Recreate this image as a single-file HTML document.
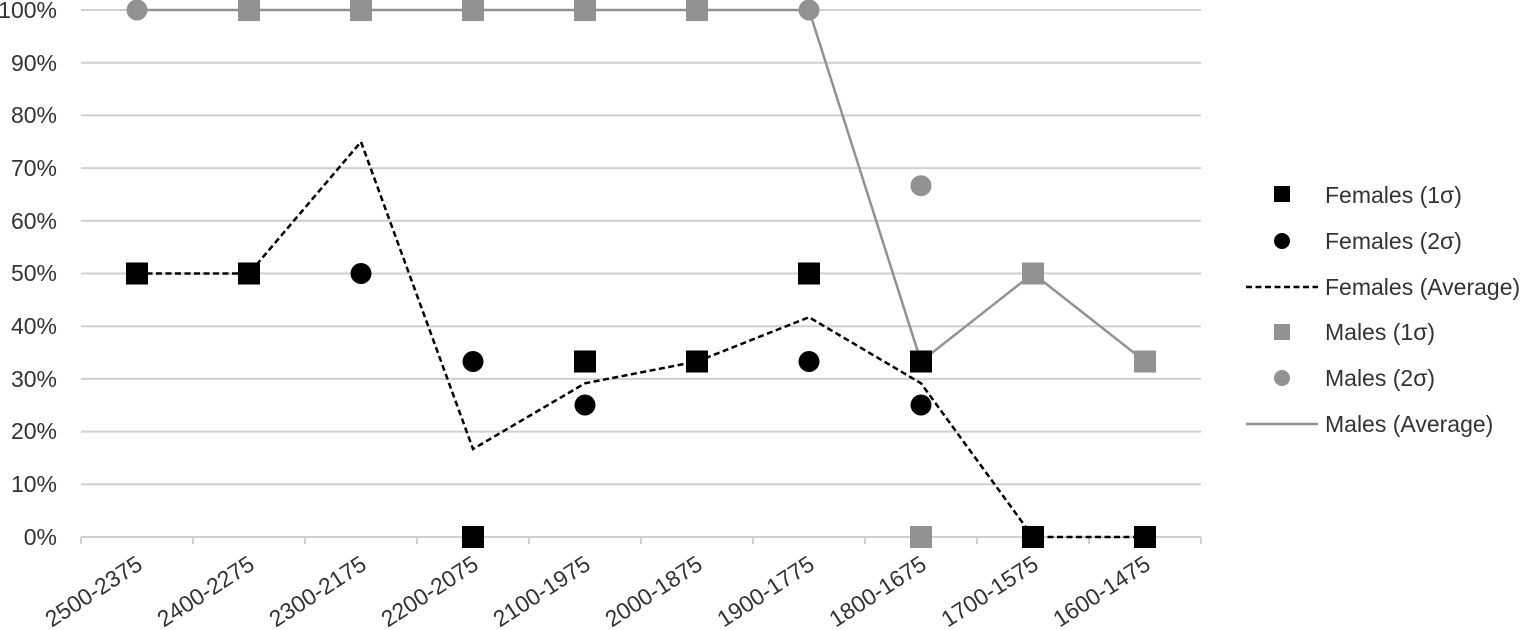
<!DOCTYPE html>
<html><head><style>body{margin:0;background:#fff}svg{display:block}text{font-family:"Liberation Sans",sans-serif;fill:#333;font-size:23px}</style></head><body>
<svg width="1525" height="630" viewBox="0 0 1525 630">
<g stroke="#d0d0d0" stroke-width="2">
<line x1="81" x2="1201" y1="10" y2="10"/><line x1="81" x2="1201" y1="62.7" y2="62.7"/><line x1="81" x2="1201" y1="115.4" y2="115.4"/><line x1="81" x2="1201" y1="168.1" y2="168.1"/><line x1="81" x2="1201" y1="220.8" y2="220.8"/><line x1="81" x2="1201" y1="273.5" y2="273.5"/><line x1="81" x2="1201" y1="326.2" y2="326.2"/><line x1="81" x2="1201" y1="378.9" y2="378.9"/><line x1="81" x2="1201" y1="431.6" y2="431.6"/><line x1="81" x2="1201" y1="484.3" y2="484.3"/><line x1="81" x2="1201" y1="537" y2="537"/>
<path d="M81 537v7M193 537v7M305 537v7M417 537v7M529 537v7M641 537v7M753 537v7M865 537v7M977 537v7M1089 537v7M1201 537v7"/>
</g>
<g text-anchor="end">
<text x="57" y="18">100%</text><text x="57" y="71">90%</text><text x="57" y="123">80%</text><text x="57" y="176">70%</text><text x="57" y="229">60%</text><text x="57" y="281">50%</text><text x="57" y="334">40%</text><text x="57" y="387">30%</text><text x="57" y="439">20%</text><text x="57" y="492">10%</text><text x="57" y="545">0%</text>
</g>
<g text-anchor="end">
<text transform="translate(144,568) rotate(-33)">2500-2375</text>
<text transform="translate(256,568) rotate(-33)">2400-2275</text>
<text transform="translate(368,568) rotate(-33)">2300-2175</text>
<text transform="translate(480,568) rotate(-33)">2200-2075</text>
<text transform="translate(592,568) rotate(-33)">2100-1975</text>
<text transform="translate(704,568) rotate(-33)">2000-1875</text>
<text transform="translate(816,568) rotate(-33)">1900-1775</text>
<text transform="translate(928,568) rotate(-33)">1800-1675</text>
<text transform="translate(1040,568) rotate(-33)">1700-1575</text>
<text transform="translate(1152,568) rotate(-33)">1600-1475</text>
</g>
<polyline fill="none" stroke="#929292" stroke-width="2.5" points="137,10 249,10 361,10 473,10 585,10 697,10 809,10 921,361.5 1033,273.5 1145,361.5"/>
<polyline fill="none" stroke="#000" stroke-width="2.5" stroke-dasharray="6,3.5" points="137,273.5 249,273.5 361,141.8 473,449 585,383.3 697,361.5 809,317.2 921,383.3 1033,537 1145,537"/>
<g fill="#929292">
<rect x="238" y="-1" width="22" height="22"/><rect x="350" y="-1" width="22" height="22"/><rect x="462" y="-1" width="22" height="22"/><rect x="574" y="-1" width="22" height="22"/><rect x="686" y="-1" width="22" height="22"/><rect x="910" y="526" width="22" height="22"/><rect x="1022" y="262.5" width="22" height="22"/><rect x="1134" y="350.5" width="22" height="22"/>
<circle cx="137" cy="10" r="10.5"/><circle cx="809" cy="10" r="10.5"/><circle cx="921" cy="185.7" r="10.5"/>
</g>
<g fill="#000">
<rect x="126" y="262.5" width="22" height="22"/><rect x="238" y="262.5" width="22" height="22"/><rect x="462" y="526" width="22" height="22"/><rect x="574" y="350.5" width="22" height="22"/><rect x="686" y="350.5" width="22" height="22"/><rect x="798" y="262.5" width="22" height="22"/><rect x="910" y="350.5" width="22" height="22"/><rect x="1022" y="526" width="22" height="22"/><rect x="1134" y="526" width="22" height="22"/>
<circle cx="361" cy="273.5" r="10.5"/><circle cx="473" cy="361.5" r="10.5"/><circle cx="585" cy="405" r="10.5"/><circle cx="809" cy="361.5" r="10.5"/><circle cx="921" cy="405" r="10.5"/>
</g>
<rect x="1274" y="186" width="16" height="16" fill="#000"/>
<circle cx="1282" cy="241" r="8" fill="#000"/>
<line x1="1246" x2="1318" y1="287" y2="287" stroke="#000" stroke-width="2.5" stroke-dasharray="6,3.5"/>
<rect x="1274" y="324" width="16" height="16" fill="#929292"/>
<circle cx="1282" cy="378" r="8" fill="#929292"/>
<line x1="1246" x2="1318" y1="424" y2="424" stroke="#929292" stroke-width="2.5"/>
<text x="1325" y="203">Females (1σ)</text>
<text x="1325" y="249">Females (2σ)</text>
<text x="1325" y="295">Females (Average)</text>
<text x="1325" y="340">Males (1σ)</text>
<text x="1325" y="386">Males (2σ)</text>
<text x="1325" y="432">Males (Average)</text>
</svg>
</body></html>
